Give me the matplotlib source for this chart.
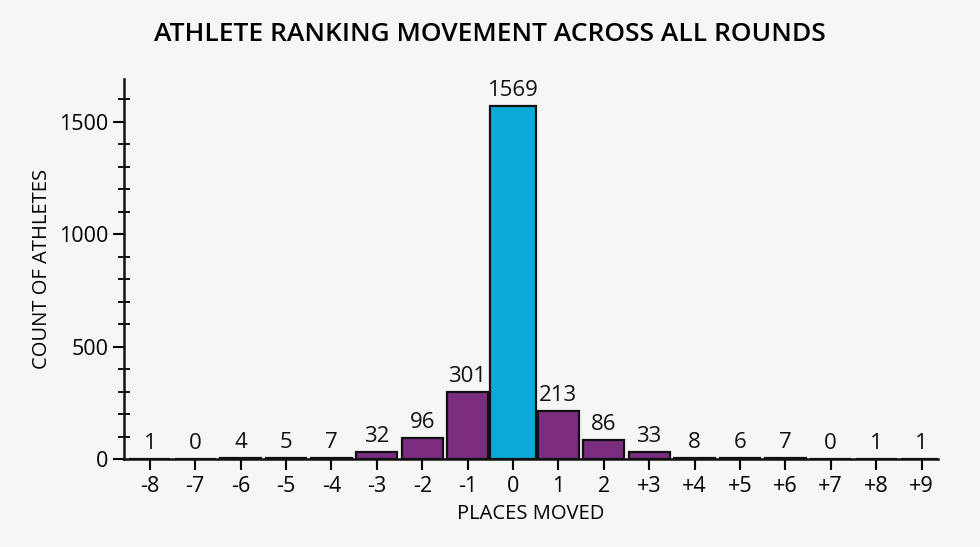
import matplotlib
matplotlib.use("Agg")
import matplotlib.pyplot as plt
from matplotlib.ticker import MultipleLocator

categories = ["-8", "-7", "-6", "-5", "-4", "-3", "-2", "-1", "0", "1", "2",
              "+3", "+4", "+5", "+6", "+7", "+8", "+9"]
counts = [1, 0, 4, 5, 7, 32, 96, 301, 1569, 213, 86, 33, 8, 6, 7, 0, 1, 1]
highlight = "0"

plt.rcParams['font.family'] = ['Open Sans', 'DejaVu Sans']

purple = "#7b2d80"
cyan = "#0aaad8"
bg = "#f6f6f4"

fig = plt.figure(figsize=(9.8, 5.47), dpi=100, facecolor=bg)
ax = fig.add_axes([0.1265, 0.1603, 0.8305, 0.6953], facecolor=bg)

x = list(range(len(categories)))
colors = [cyan if c == highlight else purple for c in categories]
widths = [1.0 if c == highlight else 0.9 for c in categories]
bars = ax.bar(x, counts, width=widths, color=colors, edgecolor="#111111", linewidth=1.6, zorder=3)

for xi, v in zip(x, counts):
    ax.text(xi, v + 22, str(v), ha="center", va="bottom", fontsize=16, color="#111111")

ax.set_xlim(-0.57, len(categories) - 0.64)
ax.set_ylim(0, 1690)
ax.set_xticks(x)
ax.set_xticklabels(categories, fontsize=15.5)
ax.yaxis.set_major_locator(MultipleLocator(500))
ax.yaxis.set_minor_locator(MultipleLocator(100))
ax.tick_params(axis="y", which="major", direction="out", length=8, width=1.5, labelsize=15.5, pad=3)
ax.tick_params(axis="y", which="minor", direction="inout", length=8, width=1.3)
ax.tick_params(axis="x", which="major", direction="out", length=8, width=1.5, pad=4)

for s in ["top", "right"]:
    ax.spines[s].set_visible(False)
for s in ["left", "bottom"]:
    ax.spines[s].set_linewidth(1.8)
    ax.spines[s].set_color("#111111")

ax.set_xlabel("PLACES MOVED", fontsize=14.5, labelpad=5)
ax.set_ylabel("COUNT OF ATHLETES", fontsize=14.5, labelpad=5)
fig.suptitle("ATHLETE RANKING MOVEMENT ACROSS ALL ROUNDS", fontsize=19,
             fontweight="semibold", x=0.5, y=0.96)

fig.savefig("out.png", dpi=100, facecolor=bg)
